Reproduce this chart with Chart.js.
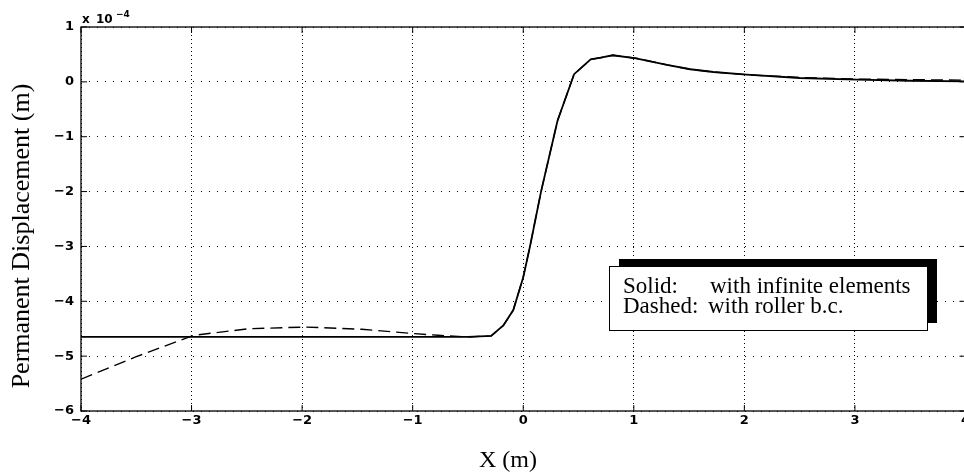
<!DOCTYPE html>
<html>
<head>
<meta charset="utf-8">
<script src="https://cdn.jsdelivr.net/npm/chart.js@4/dist/chart.umd.min.js"></script>
<style>
  html, body { margin: 0; padding: 0; background: #fff; overflow: hidden; }
  #wrap { width: 972px; height: 476px; position: relative; }
</style>
</head>
<body>
<div id="wrap"><canvas id="chart"></canvas></div>
<script>
// values in units of 1e-4 m
const xSolid = [-4, -3, -2, -1, -0.5, -0.29, -0.18, -0.09, 0, 0.06, 0.16, 0.31, 0.46, 0.61, 0.70, 0.81, 1.02, 1.30, 1.51, 1.72, 2.02, 2.50, 3.02, 3.5, 4];
const ySolid = [-4.65, -4.65, -4.65, -4.65, -4.65, -4.63, -4.44, -4.16, -3.56, -3.01, -2.01, -0.71, 0.14, 0.41, 0.44, 0.485, 0.43, 0.31, 0.23, 0.18, 0.13, 0.07, 0.04, 0.02, 0.01];
const xDashed = [-4, -3.5, -2.98, -2.48, -1.97, -1.46, -0.98, -0.77, -0.5, -0.29, -0.18, -0.09, 0, 0.06, 0.16, 0.31, 0.46, 0.61, 0.70, 0.81, 1.02, 1.30, 1.51, 1.72, 2.02, 2.50, 3.02, 3.5, 4];
const yDashed = [-5.42, -5.01, -4.62, -4.50, -4.47, -4.51, -4.59, -4.62, -4.65, -4.63, -4.44, -4.16, -3.56, -3.01, -2.01, -0.71, 0.14, 0.41, 0.44, 0.485, 0.43, 0.31, 0.23, 0.18, 0.13, 0.08, 0.05, 0.04, 0.03];
const xTicks = [-4, -3, -2, -1, 0, 1, 2, 3, 4];
const yTicks = [-6, -5, -4, -3, -2, -1, 0, 1];
const legendLines = [['Solid:', 'with infinite elements'], ['Dashed:', 'with roller b.c.']];
const xTitle = 'X (m)';
const yTitle = 'Permanent Displacement (m)';

const tickFont = { family: 'DejaVu Sans', size: 13, weight: 'bold' };
const fmt = v => (v < 0 ? '\u2212' + Math.abs(v) : String(v));

// frame, inward tick marks, exponent label, axis titles and the legend box
const decor = {
  id: 'decor',
  afterDraw(chart) {
    const { ctx, chartArea: a, scales } = chart;
    ctx.save();
    ctx.strokeStyle = '#000';
    ctx.lineWidth = 1.3;
    ctx.strokeRect(a.left, a.top, a.right - a.left, a.bottom - a.top);
    ctx.lineWidth = 1;
    ctx.beginPath();
    xTicks.forEach(v => {
      const px = scales.x.getPixelForValue(v);
      ctx.moveTo(px, a.bottom); ctx.lineTo(px, a.bottom - 6);
      ctx.moveTo(px, a.top); ctx.lineTo(px, a.top + 6);
    });
    yTicks.forEach(v => {
      const py = scales.y.getPixelForValue(v);
      ctx.moveTo(a.left, py); ctx.lineTo(a.left + 6, py);
      ctx.moveTo(a.right, py); ctx.lineTo(a.right - 6, py);
    });
    ctx.stroke();

    // x 10^-4
    ctx.fillStyle = '#000';
    ctx.textBaseline = 'alphabetic';
    ctx.textAlign = 'left';
    ctx.font = 'bold 12px "DejaVu Sans"';
    ctx.fillText('x', a.left + 1, a.top - 4);
    ctx.fillText('10', a.left + 15, a.top - 4);
    ctx.font = 'bold 9px "DejaVu Sans"';
    ctx.fillText('\u22124', a.left + 35, a.top - 10);

    // axis titles
    ctx.font = '24px "Liberation Serif"';
    ctx.textAlign = 'center';
    ctx.fillText(xTitle, 508, 467);
    ctx.save();
    ctx.translate(29, 236);
    ctx.rotate(-Math.PI / 2);
    ctx.font = '26px "Liberation Serif"';
    ctx.fillText(yTitle, 0, 0);
    ctx.restore();

    // legend with shadow
    const bx = 609, by = 266, bw = 318, bh = 64;
    ctx.fillStyle = '#000';
    ctx.fillRect(bx + 10, by - 7, bw, bh);
    ctx.fillStyle = '#fff';
    ctx.fillRect(bx, by, bw, bh);
    ctx.strokeStyle = '#000';
    ctx.lineWidth = 1;
    ctx.strokeRect(bx + 0.5, by + 0.5, bw, bh);
    ctx.fillStyle = '#000';
    ctx.font = '23px "Liberation Serif"';
    ctx.textAlign = 'left';
    legendLines.forEach((l, i) => {
      const y = 293 + i * 20;
      ctx.fillText(l[0], bx + 14, y);
      ctx.fillText(l[1], i === 0 ? 710 : 708, y);
    });
    ctx.restore();
  }
};

new Chart(document.getElementById('chart'), {
  type: 'line',
  data: {
    datasets: [
      {
        label: 'Solid: with infinite elements',
        data: xSolid.map((x, i) => ({ x: x, y: ySolid[i] })),
        borderColor: '#000',
        borderWidth: 1.8,
        pointRadius: 0,
        tension: 0
      },
      {
        label: 'Dashed: with roller b.c.',
        data: xDashed.map((x, i) => ({ x: x, y: yDashed[i] })),
        borderColor: '#000',
        borderWidth: 1.4,
        borderDash: [12, 6],
        pointRadius: 0,
        tension: 0
      }
    ]
  },
  options: {
    responsive: true,
    maintainAspectRatio: false,
    animation: false,
    layout: { padding: { top: 27, right: 5, left: 0, bottom: 0 } },
    plugins: { legend: { display: false }, tooltip: { enabled: false } },
    scales: {
      x: {
        type: 'linear',
        min: -4, max: 4,
        afterBuildTicks: s => { s.ticks = xTicks.map(v => ({ value: v })); },
        afterFit: s => { s.height = 65; },
        ticks: { color: '#000', font: tickFont, padding: 2, callback: fmt, maxRotation: 0 },
        grid: { color: '#000', lineWidth: 1, drawTicks: false },
        border: { display: false, dash: [1, 3] }
      },
      y: {
        type: 'linear',
        min: -6, max: 1,
        afterBuildTicks: s => { s.ticks = yTicks.map(v => ({ value: v })); },
        afterFit: s => { s.width = 81; },
        ticks: { color: '#000', font: tickFont, padding: 7, callback: fmt },
        grid: { color: '#000', lineWidth: 1, drawTicks: false },
        border: { display: false, dash: [1, 7] }
      }
    }
  },
  plugins: [decor]
});
</script>
</body>
</html>
